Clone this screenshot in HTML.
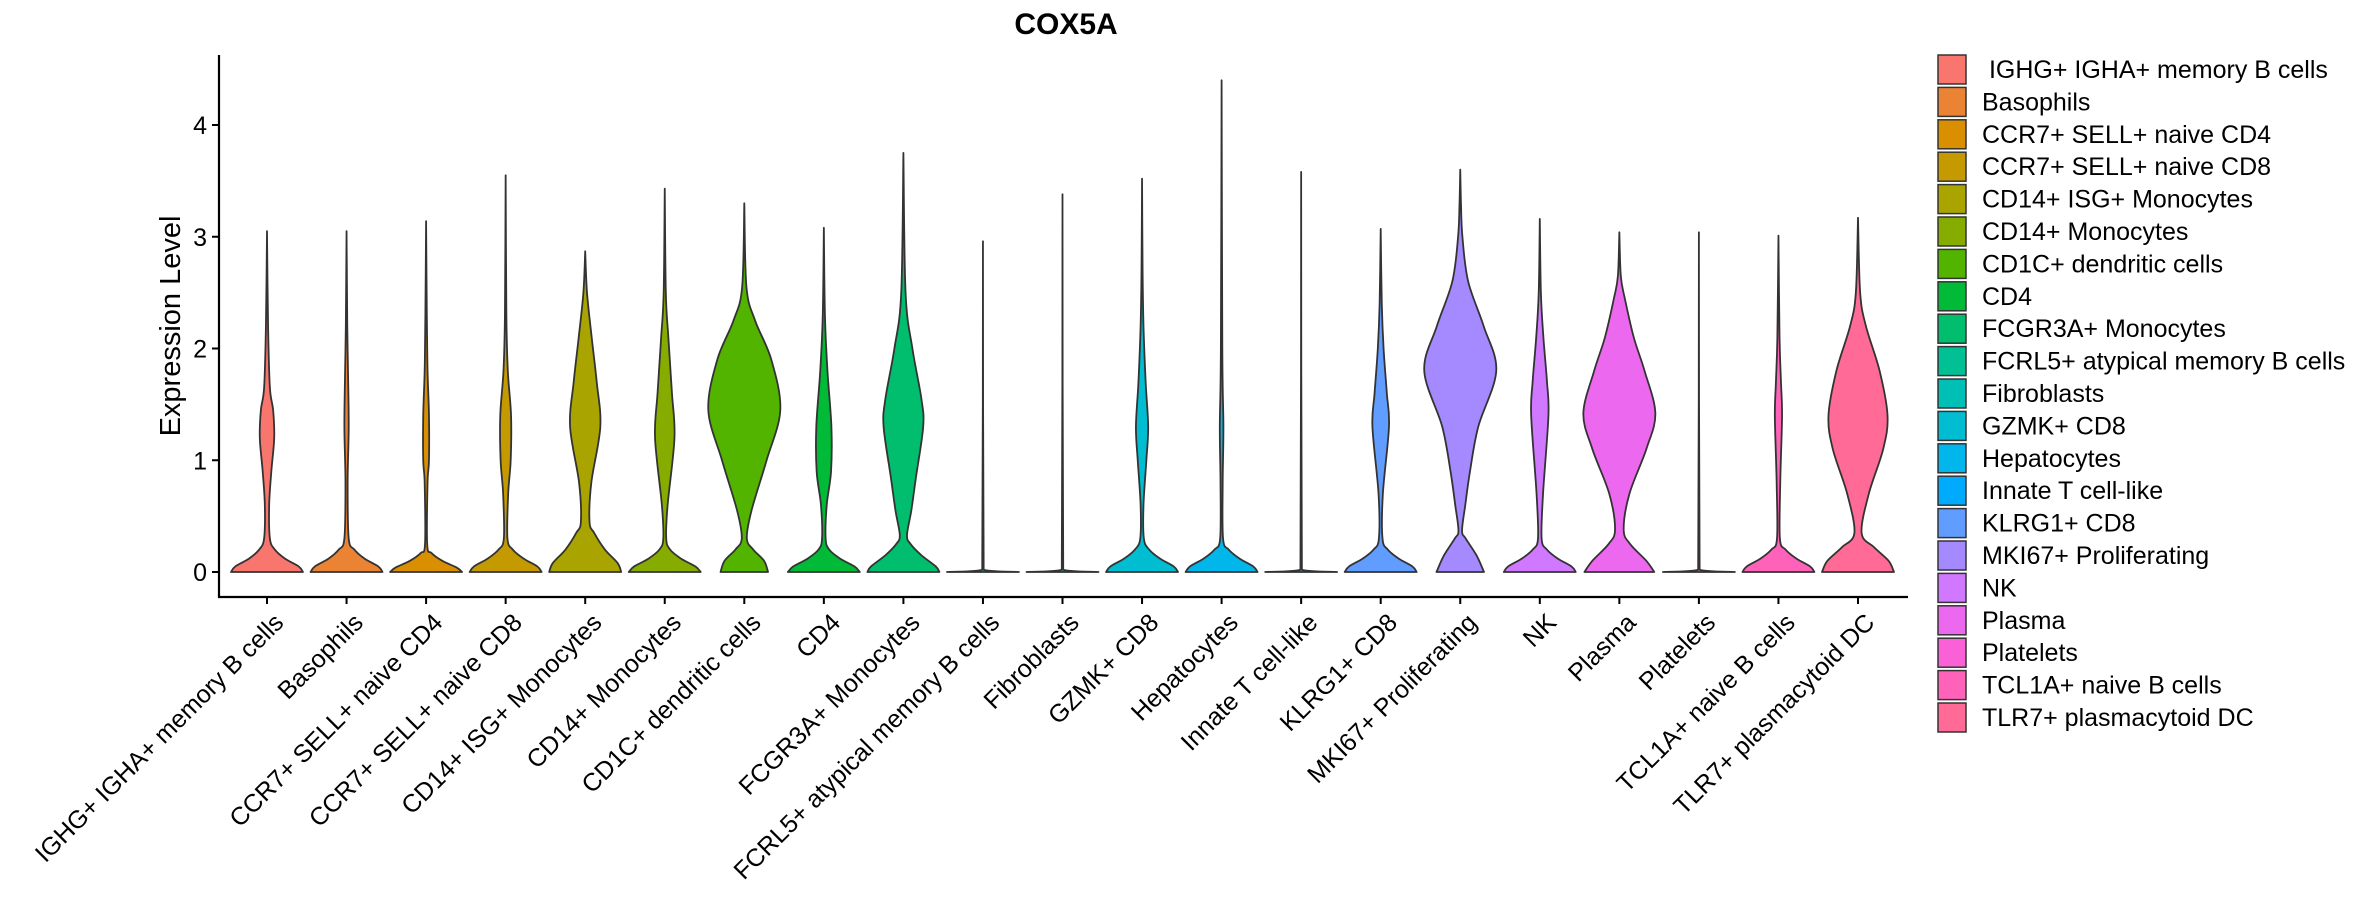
<!DOCTYPE html>
<html><head><meta charset="utf-8"><style>
html,body{margin:0;padding:0;background:#fff;}
svg text{font-family:"Liberation Sans",sans-serif;fill:#000;}
</style></head><body>
<svg id="chart" width="2362" height="900" xmlns="http://www.w3.org/2000/svg">
<text x="1066" y="34" font-size="30" font-weight="bold" text-anchor="middle">COX5A</text>
<text transform="translate(180,326) rotate(-90)" font-size="29" text-anchor="middle">Expression Level</text>
<g id="plot"></g>
<g id="legend"></g>
</svg>
<script>
const categories = ["IGHG+ IGHA+ memory B cells","Basophils","CCR7+ SELL+ naive CD4","CCR7+ SELL+ naive CD8","CD14+ ISG+ Monocytes","CD14+ Monocytes","CD1C+ dendritic cells","CD4","FCGR3A+ Monocytes","FCRL5+ atypical memory B cells","Fibroblasts","GZMK+ CD8","Hepatocytes","Innate T cell-like","KLRG1+ CD8","MKI67+ Proliferating","NK","Plasma","Platelets","TCL1A+ naive B cells","TLR7+ plasmacytoid DC"];
const maxValues = [3.05,3.05,3.14,3.55,2.87,3.43,3.3,3.08,3.75,2.96,3.38,3.52,4.4,3.58,3.07,3.6,3.16,3.04,3.04,3.01,3.17];
// density profiles: [expression level, relative half-width]
const profiles = [
 [[0,1],[0.05,0.88],[0.12,0.5],[0.2,0.22],[0.3,0.08],[0.6,0.06],[0.9,0.12],[1.2,0.2],[1.45,0.17],[1.65,0.08],[2.2,0.03],[3.05,0]],
 [[0,1],[0.05,0.88],[0.12,0.5],[0.2,0.22],[0.3,0.06],[0.8,0.03],[1.3,0.06],[1.8,0.04],[2.2,0.02],[3.05,0]],
 [[0,1],[0.04,0.85],[0.1,0.45],[0.17,0.15],[0.25,0.03],[0.8,0.04],[1.0,0.08],[1.4,0.08],[1.8,0.04],[2.3,0.02],[3.14,0]],
 [[0,1],[0.05,0.88],[0.12,0.5],[0.2,0.2],[0.3,0.05],[0.7,0.07],[1.0,0.14],[1.4,0.15],[1.8,0.06],[2.3,0.02],[3.55,0]],
 [[0,1],[0.08,0.9],[0.2,0.55],[0.35,0.25],[0.45,0.12],[0.8,0.17],[1.3,0.42],[1.7,0.32],[2.1,0.18],[2.5,0.05],[2.87,0]],
 [[0,1],[0.05,0.85],[0.12,0.45],[0.2,0.15],[0.3,0.04],[0.6,0.08],[1.2,0.27],[1.6,0.2],[2.1,0.1],[2.5,0.03],[3.43,0]],
 [[0,0.66],[0.1,0.55],[0.2,0.25],[0.3,0.07],[0.55,0.2],[1.0,0.62],[1.45,1.0],[1.9,0.75],[2.25,0.3],[2.55,0.06],[3.3,0]],
 [[0,1],[0.05,0.85],[0.12,0.45],[0.2,0.15],[0.3,0.05],[0.6,0.08],[0.9,0.2],[1.3,0.21],[1.8,0.1],[2.3,0.03],[3.08,0]],
 [[0,1],[0.05,0.9],[0.15,0.5],[0.25,0.2],[0.33,0.1],[0.55,0.22],[0.85,0.35],[1.3,0.55],[1.55,0.5],[2.0,0.25],[2.5,0.06],[3.75,0]],
 [[0,1],[0.02,0.02],[2.96,0]],
 [[0,1],[0.02,0.02],[3.38,0]],
 [[0,1],[0.05,0.88],[0.12,0.5],[0.2,0.2],[0.3,0.05],[0.6,0.04],[1.0,0.12],[1.3,0.17],[1.7,0.1],[2.2,0.04],[2.7,0.015],[3.52,0]],
 [[0,1],[0.05,0.88],[0.12,0.5],[0.2,0.2],[0.3,0.04],[0.8,0.03],[1.3,0.05],[2.0,0.02],[4.4,0]],
 [[0,1],[0.02,0.02],[3.58,0]],
 [[0,1],[0.05,0.88],[0.12,0.5],[0.2,0.2],[0.3,0.05],[0.7,0.06],[1.3,0.23],[1.6,0.17],[2.0,0.08],[2.4,0.03],[3.07,0]],
 [[0,0.66],[0.15,0.45],[0.3,0.15],[0.37,0.05],[0.6,0.14],[0.9,0.27],[1.3,0.5],[1.8,1.0],[2.2,0.65],[2.6,0.22],[3.0,0.06],[3.3,0.02],[3.6,0]],
 [[0,1],[0.05,0.88],[0.12,0.5],[0.2,0.2],[0.3,0.05],[0.7,0.09],[1.4,0.24],[1.7,0.2],[2.1,0.1],[2.5,0.03],[3.16,0]],
 [[0,0.97],[0.1,0.75],[0.25,0.3],[0.38,0.12],[0.7,0.28],[1.1,0.75],[1.42,1.0],[1.8,0.7],[2.1,0.4],[2.45,0.15],[2.65,0.04],[3.04,0]],
 [[0,1],[0.02,0.02],[3.04,0]],
 [[0,1],[0.05,0.88],[0.12,0.5],[0.2,0.2],[0.3,0.04],[0.8,0.05],[1.4,0.1],[1.7,0.07],[2.1,0.03],[3.01,0]],
 [[0,1],[0.1,0.85],[0.22,0.45],[0.35,0.1],[0.7,0.3],[1.1,0.7],[1.4,0.82],[1.8,0.6],[2.2,0.22],[2.5,0.06],[3.17,0]]
];
const yTicks = [0,1,2,3,4];

const NS="http://www.w3.org/2000/svg";
const plot=document.getElementById('plot'), legend=document.getElementById('legend');
const X0=219, X1=1908, Ytop=55, Ybot=597;
const xPos=i=>267+i*(1858-267)/(categories.length-1);
const yPos=v=>572-v*111.75;
const HALF=36;
function hue(h){
  const L=65,C=100,r=h*Math.PI/180,u=C*Math.cos(r),v=C*Math.sin(r);
  const Xn=95.047,Yn=100,Zn=108.883,d=Xn+15*Yn+3*Zn,un=4*Xn/d,vn=9*Yn/d;
  const Y=Yn*Math.pow((L+16)/116,3),up=u/(13*L)+un,vp=v/(13*L)+vn;
  const X=9*Y*up/(4*vp),Z=-X/3-5*Y+3*Y/vp;
  const x=X/100,y=Y/100,z=Z/100;
  let rgb=[3.2404542*x-1.5371385*y-0.4985314*z,-0.9692660*x+1.8760108*y+0.0415560*z,0.0556434*x-0.2040259*y+1.0572252*z];
  rgb=rgb.map(c=>{c=c<=0.0031308?12.92*c:1.055*Math.pow(c,1/2.4)-0.055;return Math.round(Math.max(0,Math.min(1,c))*255);});
  return `rgb(${rgb.join(',')})`;
}
const colors=categories.map((c,i)=>hue(15+i*360/categories.length));
function mk(tag,attrs,parent){const e=document.createElementNS(NS,tag);for(const k in attrs)e.setAttribute(k,attrs[k]);parent.appendChild(e);return e;}
function smooth(pts,cx,side,base){ // catmull-rom with clamping
  const cl=p=>[side>0?Math.max(cx,p[0]):Math.min(cx,p[0]),Math.min(base,p[1])];
  let d='';
  for(let i=0;i<pts.length-1;i++){
    const p0=pts[Math.max(0,i-1)],p1=pts[i],p2=pts[i+1],p3=pts[Math.min(pts.length-1,i+2)];
    const c1=cl([p1[0]+(p2[0]-p0[0])/6,p1[1]+(p2[1]-p0[1])/6]),c2=cl([p2[0]-(p3[0]-p1[0])/6,p2[1]-(p3[1]-p1[1])/6]);
    d+=` C${c1[0].toFixed(2)},${c1[1].toFixed(2)} ${c2[0].toFixed(2)},${c2[1].toFixed(2)} ${p2[0].toFixed(2)},${p2[1].toFixed(2)}`;
  }
  return d;
}
let e;
e=mk('line',{x1:X0,y1:Ytop,x2:X0,y2:Ybot+1,stroke:'#000','stroke-width':2.2},plot);


e=mk('line',{x1:X0-1,y1:Ybot,x2:X1,y2:Ybot,stroke:'#000','stroke-width':2.2},plot);


yTicks.forEach(t=>{
  const y=yPos(t);
  e=mk('line',{x1:X0-7,y1:y,x2:X0,y2:y,stroke:'#000','stroke-width':2},plot);
  
  
  e=mk('text',{x:X0-12,y:y+9,'font-size':25,'text-anchor':'end'},plot);
  e.textContent=t;
  
  
});
categories.forEach((c,i)=>{
  const cx=xPos(i),m=maxValues[i],pr=profiles[i].slice();
  const base=yPos(0);
  const right=pr.map(p=>[cx+p[1]*HALF,yPos(Math.min(p[0],m))]);
  right[right.length-1]=[cx,yPos(m)];
  const left=right.slice().reverse().map(p=>[2*cx-p[0],p[1]]);
  let d=`M${left[left.length-1][0]},${left[left.length-1][1]} L${right[0][0]},${right[0][1]}`+smooth(right,cx,1,base)+smooth(left,cx,-1,base)+' Z';
  e=mk('path',{d:d,fill:colors[i],stroke:'#333','stroke-width':1.8,'stroke-linejoin':'round'},plot);
  
  
  e=mk('line',{x1:cx,y1:Ybot,x2:cx,y2:Ybot+7,stroke:'#000','stroke-width':2},plot);
  
  
  e=mk('text',{transform:`translate(${cx+18},624) rotate(-45)`,'font-size':25,'text-anchor':'end'},plot);
  e.textContent=c;
  
  
  const ly=55+i*32.4;
  e=mk('rect',{x:1938,y:ly,width:28,height:29,fill:colors[i],stroke:'#333','stroke-width':1.5},legend);
  
  
  e=mk('text',{x:1982,y:ly+23,'font-size':25},legend);
  e.textContent=(i===0?'\u00a0':'')+c;
  
  
});
</script>
</body></html>
